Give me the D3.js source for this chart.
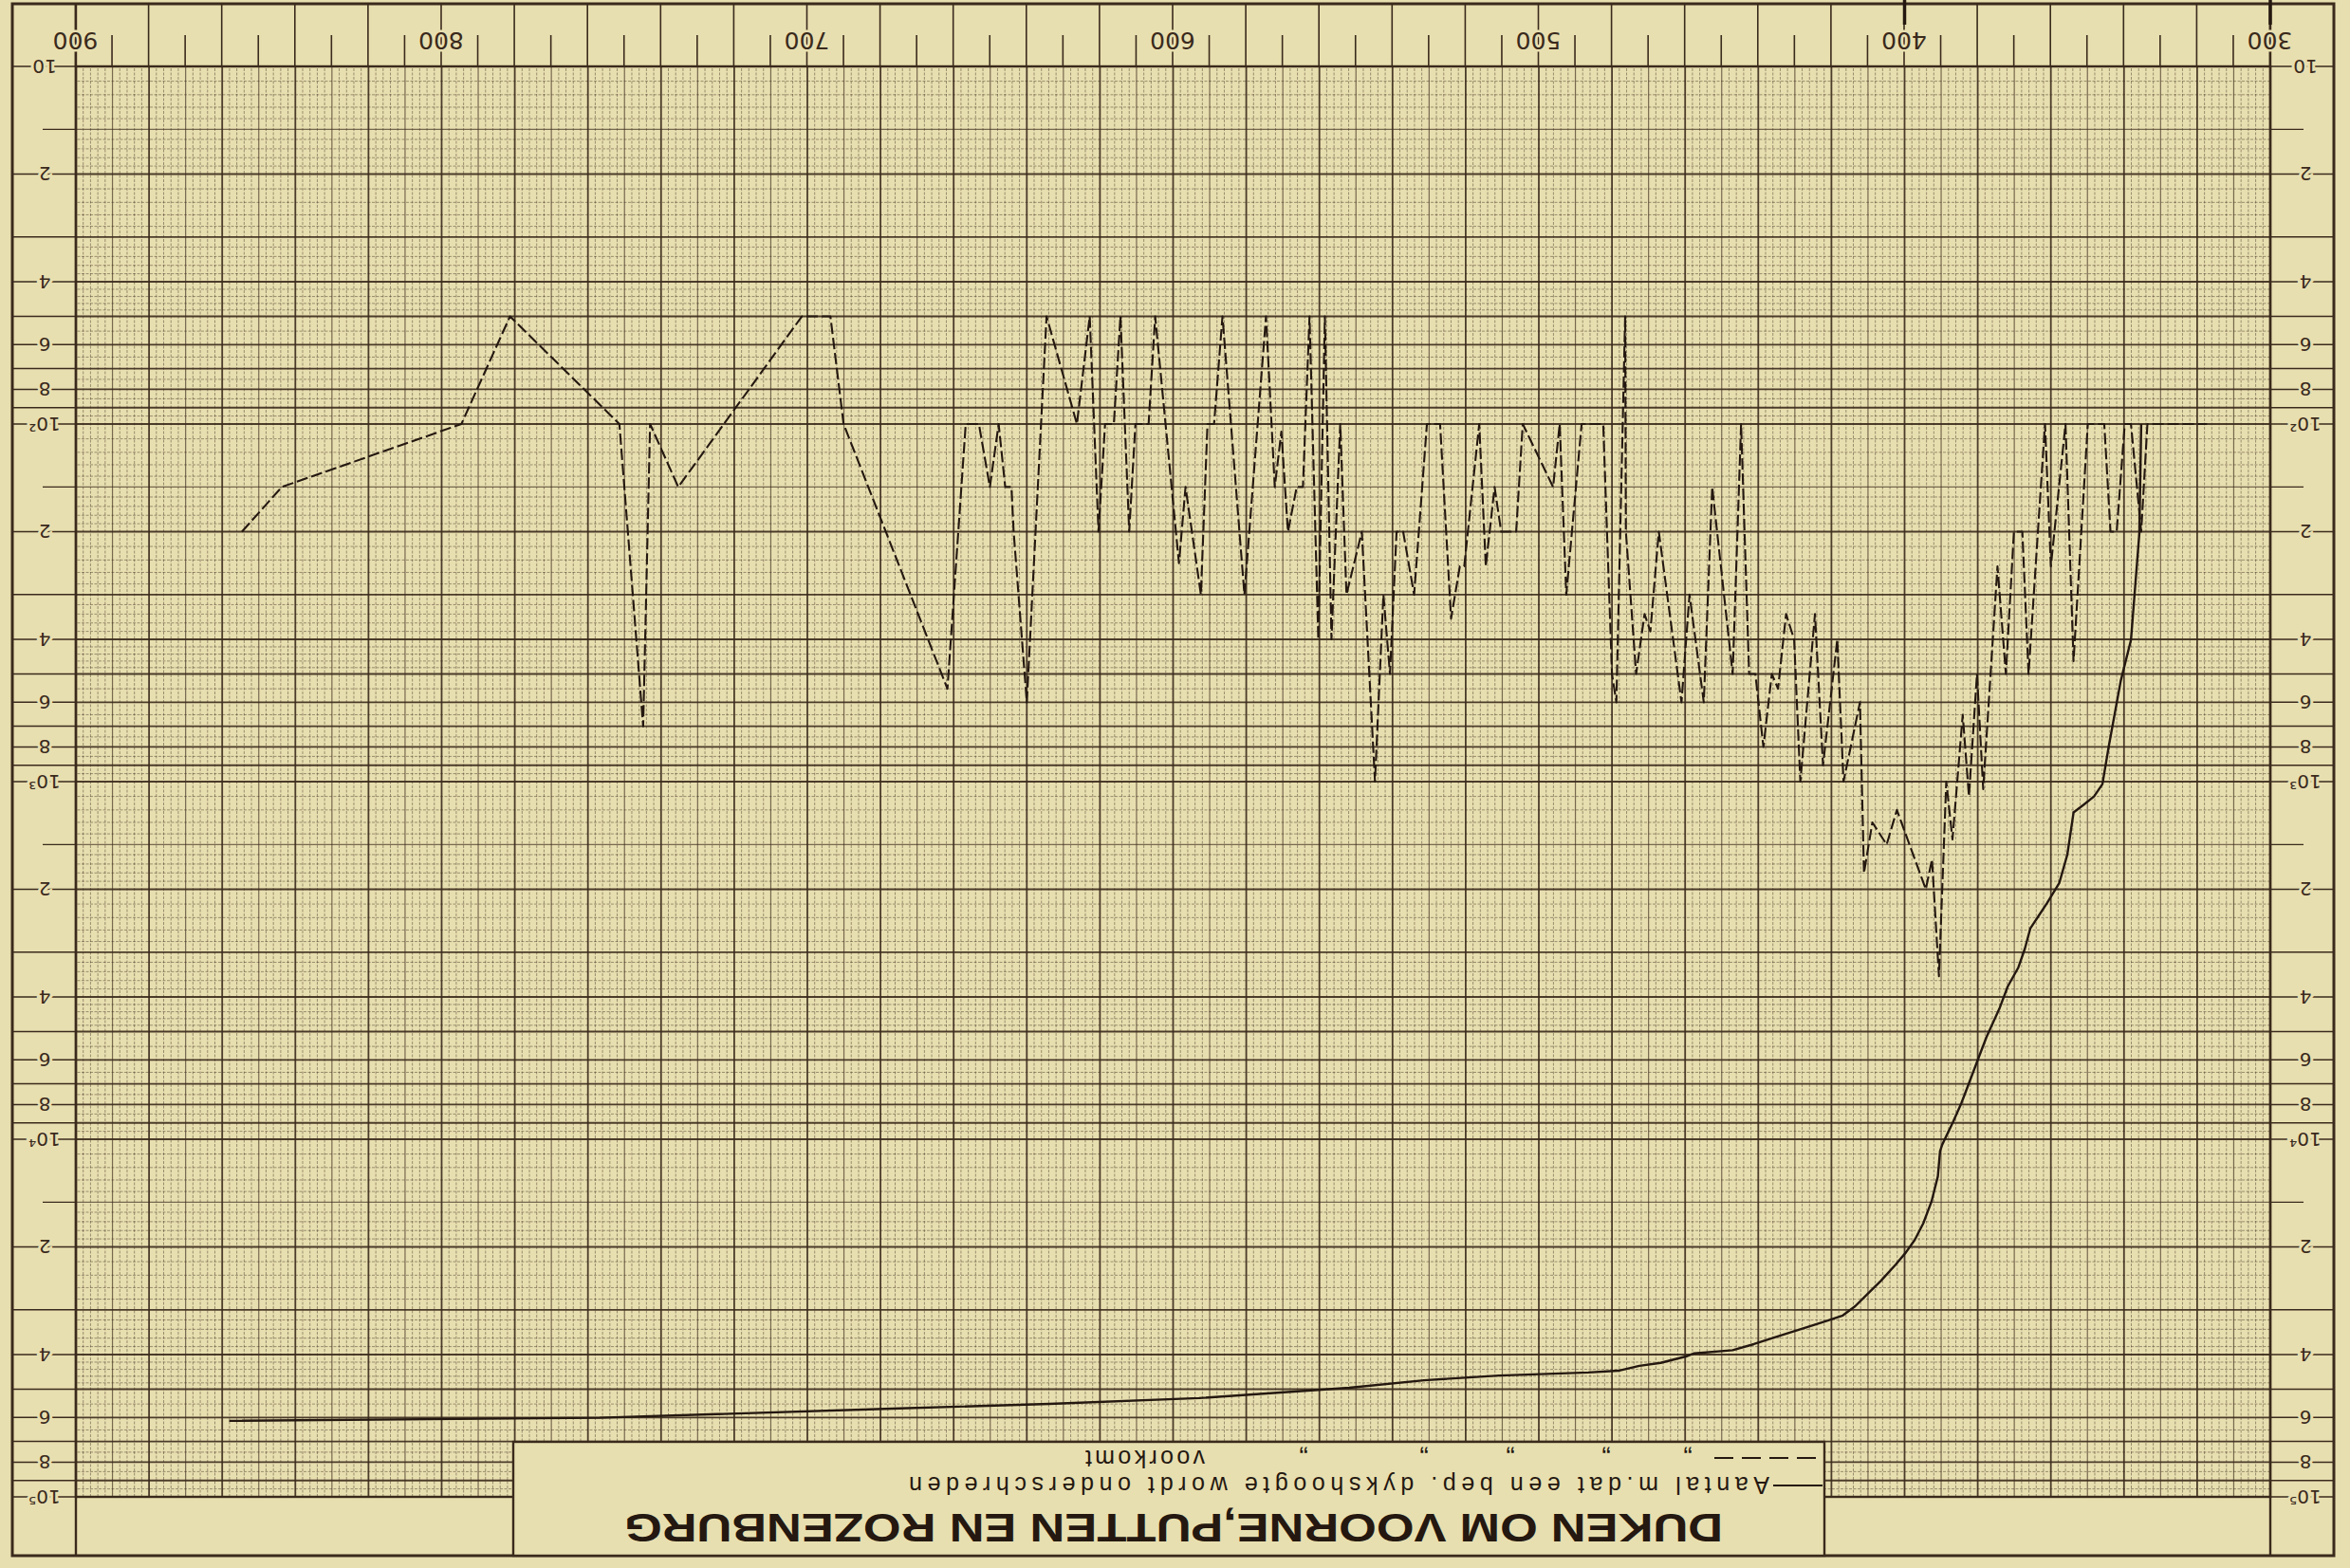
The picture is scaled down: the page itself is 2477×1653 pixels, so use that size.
<!DOCTYPE html>
<html>
<head>
<meta charset="utf-8">
<script src="https://d3js.org/d3.v7.min.js"></script>
<style>
html, body { margin: 0; padding: 0; background: #e8dfb0; }
svg { display: block; }
</style>
</head>
<body>
<svg id="svg"></svg>
<script>
// dijkshoogte (x) en aantal m (y)
const voorkomtHoogte = [854.6, 843.7, 794.6, 781.3, 751.4, 744.9, 743.0, 735.3, 701.5, 693.7, 690.1, 661.7,
  656.7, 653.1, 650.1, 647.7, 645.9, 644.2, 643.6, 640.0, 634.6, 626.3, 622.8, 620.4, 618.6, 616.2, 614.4,
  612.0, 610.3, 606.7, 604.9, 598.4, 596.6, 592.4, 590.6, 588.8, 586.5, 580.5, 574.6, 572.2, 570.4, 568.6,
  566.2, 564.5, 562.7, 560.3, 558.5, 556.7, 554.3, 552.6, 548.4, 544.8, 542.5, 540.7, 538.9, 537.1, 534.1,
  530.6, 527.0, 524.0, 521.6, 520.4, 516.3, 514.5, 512.1, 510.3, 506.2, 504.4, 496.1, 494.3, 492.5, 488.3,
  482.4, 480.0, 478.8, 476.4, 476.2, 473.4, 471.1, 469.5, 467.2, 461.0, 458.8, 454.9, 452.6, 447.0, 444.7,
  442.5, 440.8, 438.6, 436.3, 434.6, 432.4, 430.2, 428.5, 424.5, 422.3, 418.4, 416.7, 412.2, 411.1, 408.8,
  404.9, 402.1, 394.2, 392.5, 390.6, 388.6, 386.9, 384.1, 382.4, 380.2, 378.5, 374.6, 372.3, 370.1, 367.8,
  366.1, 361.6, 360.0, 356.0, 353.8, 349.9, 345.4, 343.7, 342.0, 339.8, 338.1, 335.3, 333.6, 317.3];
const voorkomtAantal = [200, 150, 100, 50, 100, 700, 100, 150, 50, 50, 100, 550,
  100, 100, 150, 100, 150, 150, 200, 600, 50, 100, 50, 200, 100, 100, 50,
  200, 100, 100, 50, 245, 150, 300, 100, 100, 50, 300, 50, 150, 105, 200,
  150, 150, 50, 400, 50, 400, 100, 300, 200, 1000, 300, 500, 200, 200, 300,
  100, 100, 350, 250, 250, 100, 250, 150, 200, 200, 100, 150, 100, 300, 100,
  100, 500, 600, 50, 200, 500, 340, 380, 200, 600, 300, 600, 150, 500, 100,
  500, 500, 800, 500, 550, 340, 400, 1000, 340, 900, 400, 1000, 600, 1800, 1300,
  1500, 1200, 2000, 1650, 3500, 1000, 1450, 650, 1100, 500, 1050, 250, 500, 200, 200,
  500, 100, 250, 100, 460, 100, 100, 200, 200, 100, 100, 200, 100, 100];

const onderHoogte = [858.1, 756.8, 674.8, 633.9, 592.9, 551.9, 531.4, 510.9, 486.5, 478.3, 472.5, 466.7,
  459.8, 457.5, 447.0, 441.2, 434.3, 427.3, 421.6, 416.9, 413.5, 410.0, 406.5, 402.4, 399.6, 397.2, 394.9,
  392.6, 390.9, 390.3, 389.7, 386.8, 384.5, 382.2, 379.9, 377.6, 374.1, 371.8, 368.9, 367.1, 365.6, 363.3,
  361.1, 357.7, 355.5, 353.8, 351.0, 348.2, 345.9, 344.2, 340.9, 338.1, 335.8, 335.3];
const onderAantal = [61300, 60100, 56600, 54950, 52950, 49550, 47200, 45800, 44900, 44400, 43000, 42200,
  40500, 39700, 38900, 37400, 35500, 33700, 32300, 31100, 29300, 27000, 24900, 22400, 20700, 19100, 17200,
  14900, 12700, 10800, 10350, 8970, 7940, 6890, 5970, 5180, 4320, 3740, 3310, 2930, 2570, 2370,
  2190, 1920, 1600, 1220, 1160, 1100, 1016, 800, 523, 402, 202, 100];

const xTicks = [300, 400, 500, 600, 700, 800, 900];
const decades = [10, 100, 1000, 10000, 100000];
const decadeLabels = ["10", "10²", "10³", "10⁴", "10⁵"];
const tussenLabels = [2, 4, 6, 8];
const handMarks = [300, 400];

const title = "DUKEN OM VOORNE,PUTTEN EN ROZENBURG";
const legendSolid = "Aantal m.dat een bep. dykshoogte wordt onderschreden";
const legendDashed = "voorkomt";
const dittoX = [698, 784, 885, 976, 1103];

const W = 2477, H = 1653;
const paper = "#e8dfb0";
const ink = "#3a2a1c";
const pen = "#241810";

const pL = 84, pR = 2397, pT = 75, pB = 1583;
const frame = {x0: 17, x1: 2464, y0: 13, y1: 1649};

const svg = d3.select("#svg").attr("width", W).attr("height", H);
svg.append("rect").attr("width", W).attr("height", H).attr("fill", paper);

// het blad is ondersteboven gescand
const g = svg.append("g").attr("transform", `rotate(180 ${W / 2} ${H / 2})`);

const x = d3.scaleLinear().domain([300, 900]).range([pL, pR]);
const y = d3.scaleLog().domain([10, 1e5]).range([pB, pT]);

// raster
const vGrid = d3.range(300, 901, 2);
g.append("g").selectAll("line").data(vGrid).join("line")
  .attr("x1", d => x(d)).attr("x2", d => x(d))
  .attr("y1", pT).attr("y2", pB)
  .attr("stroke", ink)
  .attr("stroke-width", d => d % 20 === 0 ? 1.8 : d % 10 === 0 ? 1.2 : 0.9)
  .attr("stroke-opacity", d => d % 20 === 0 ? 0.9 : d % 10 === 0 ? 0.65 : 0.5)
  .attr("stroke-dasharray", d => d % 10 === 0 ? null : "3,1.5");

const hGrid = [];
decades.slice(0, 4).forEach(dec => {
  for (let m = 10; m < 100; m += (m < 20 ? 1 : m < 50 ? 2 : 5)) hGrid.push({v: dec * m / 10, m});
});
hGrid.push({v: 1e5, m: 10});
g.append("g").selectAll("line").data(hGrid).join("line")
  .attr("x1", pL).attr("x2", pR)
  .attr("y1", d => y(d.v)).attr("y2", d => y(d.v))
  .attr("stroke", ink)
  .attr("stroke-width", d => d.m % 10 === 0 ? 1.8 : d.m === 15 ? 1.2 : 0.9)
  .attr("stroke-opacity", d => d.m % 10 === 0 ? 0.9 : d.m === 15 ? 0.65 : 0.5)
  .attr("stroke-dasharray", d => d.m % 10 === 0 || d.m === 15 ? null : "3,1.5");

// kader
g.append("rect").attr("x", frame.x0).attr("y", frame.y0)
  .attr("width", frame.x1 - frame.x0).attr("height", frame.y1 - frame.y0)
  .attr("fill", "none").attr("stroke", ink).attr("stroke-width", 3);
g.append("rect").attr("x", pL).attr("y", pT)
  .attr("width", pR - pL).attr("height", pB - pT)
  .attr("fill", "none").attr("stroke", ink).attr("stroke-width", 2.4);
[pL, pR].forEach(xx => g.append("line").attr("x1", xx).attr("x2", xx)
  .attr("y1", frame.y0).attr("y2", frame.y1).attr("stroke", ink).attr("stroke-width", 2.4));

// x-as onderrand
const xAxisLong = d3.axisBottom(x).tickValues(d3.range(300, 901, 20)).tickSize(frame.y1 - pB).tickFormat("");
const xAxisShort = d3.axisBottom(x).tickValues(d3.range(310, 900, 20)).tickSize(33).tickFormat("");
const xAxisLab = d3.axisBottom(x).tickValues(xTicks).tickSize(0).tickPadding(18).tickFormat(d3.format("d"));
[xAxisLong, xAxisShort].forEach(ax => {
  const a = g.append("g").attr("transform", `translate(0,${pB})`).call(ax);
  a.select(".domain").remove();
  a.selectAll("line").attr("stroke", ink).attr("stroke-width", 1.6);
});
const xl = g.append("g").attr("transform", `translate(0,${pB})`).call(xAxisLab);
xl.select(".domain").remove();
xl.selectAll("text").attr("fill", ink).attr("font-family", "DejaVu Sans, sans-serif")
  .attr("font-size", 25).attr("stroke", paper).attr("stroke-width", 5).attr("paint-order", "stroke");
g.append("g").selectAll("line").data(handMarks).join("line")
  .attr("x1", d => x(d)).attr("x2", d => x(d)).attr("y1", frame.y1 - 22).attr("y2", H)
  .attr("stroke", pen).attr("stroke-width", 3.5);

// y-as in beide randen
const marginSides = [{x0: frame.x0, x1: pL, lx: 47}, {x0: pR, x1: frame.x1, lx: 2430}];
const fullTicks = [], shortTicks = [], labelTicks = [];
decades.forEach((dec, i) => {
  labelTicks.push({v: dec, t: decadeLabels[i]});
  if (i < 4) {
    tussenLabels.forEach(m => labelTicks.push({v: dec * m, t: String(m)}));
    [3, 5, 7, 9].forEach(m => fullTicks.push(dec * m));
    shortTicks.push(dec * 1.5);
  }
});
marginSides.forEach(s => {
  const mg = g.append("g");
  mg.selectAll("line.full").data(fullTicks.concat(labelTicks.map(d => d.v))).join("line")
    .attr("x1", s.x0).attr("x2", s.x1).attr("y1", d => y(d)).attr("y2", d => y(d))
    .attr("stroke", ink).attr("stroke-width", 1.5);
  const edge = s.x0 === frame.x0 ? pL : pR;
  const dir = s.x0 === frame.x0 ? -1 : 1;
  mg.selectAll("line.short").data(shortTicks).join("line")
    .attr("x1", edge).attr("x2", edge + dir * 35).attr("y1", d => y(d)).attr("y2", d => y(d))
    .attr("stroke", ink).attr("stroke-width", 1.4);
  mg.selectAll("text").data(labelTicks).join("text")
    .attr("x", s.lx).attr("y", d => y(d.v)).attr("dy", "0.36em")
    .attr("text-anchor", "middle").attr("fill", ink)
    .attr("font-family", "DejaVu Sans, sans-serif").attr("font-size", 20)
    .attr("stroke", paper).attr("stroke-width", 6).attr("paint-order", "stroke")
    .text(d => d.t);
});

// lijnen
const lineGen = d3.line().x(d => x(d[0])).y(d => y(d[1]));
g.append("path").datum(d3.zip(voorkomtHoogte, voorkomtAantal))
  .attr("d", lineGen).attr("fill", "none").attr("stroke", pen)
  .attr("stroke-width", 2.1).attr("stroke-dasharray", "12,4").attr("stroke-linejoin", "round");
g.append("path").datum(d3.zip(onderHoogte, onderAantal))
  .attr("d", lineGen).attr("fill", "none").attr("stroke", pen)
  .attr("stroke-width", 2.4).attr("stroke-linejoin", "round");

// titelblok
const box = {x0: 554, x1: 1936, y0: frame.y0, y1: 133};
g.append("rect").attr("x", box.x0).attr("y", box.y0)
  .attr("width", box.x1 - box.x0).attr("height", box.y1 - box.y0)
  .attr("fill", paper).attr("stroke", ink).attr("stroke-width", 2.4);
g.append("text").attr("x", 661).attr("y", 57)
  .attr("font-family", "Liberation Sans Narrow, Liberation Sans, sans-serif").attr("font-weight", "bold")
  .attr("font-size", 43).attr("fill", pen).attr("textLength", 1158).attr("lengthAdjust", "spacingAndGlyphs")
  .text(title);
g.append("line").attr("x1", box.x0 + 2).attr("x2", 608).attr("y1", 87).attr("y2", 87)
  .attr("stroke", pen).attr("stroke-width", 2);
g.append("text").attr("x", 612).attr("y", 96)
  .attr("font-family", "Liberation Sans Narrow, Liberation Sans, sans-serif")
  .attr("font-size", 25).attr("fill", pen).attr("textLength", 907).attr("lengthAdjust", "spacing")
  .text(legendSolid);
g.append("line").attr("x1", 563).attr("x2", 674).attr("y1", 116).attr("y2", 116)
  .attr("stroke", pen).attr("stroke-width", 2).attr("stroke-dasharray", "20,9");
g.append("g").selectAll("text").data(dittoX).join("text")
  .attr("x", d => d).attr("y", 124).attr("text-anchor", "middle")
  .attr("font-family", "Liberation Sans, sans-serif").attr("font-size", 28).attr("fill", pen)
  .text("„");
g.append("text").attr("x", 1207).attr("y", 124)
  .attr("font-family", "Liberation Sans Narrow, Liberation Sans, sans-serif")
  .attr("font-size", 25).attr("fill", pen).attr("textLength", 126).attr("lengthAdjust", "spacing")
  .text(legendDashed);
</script>
</body>
</html>
